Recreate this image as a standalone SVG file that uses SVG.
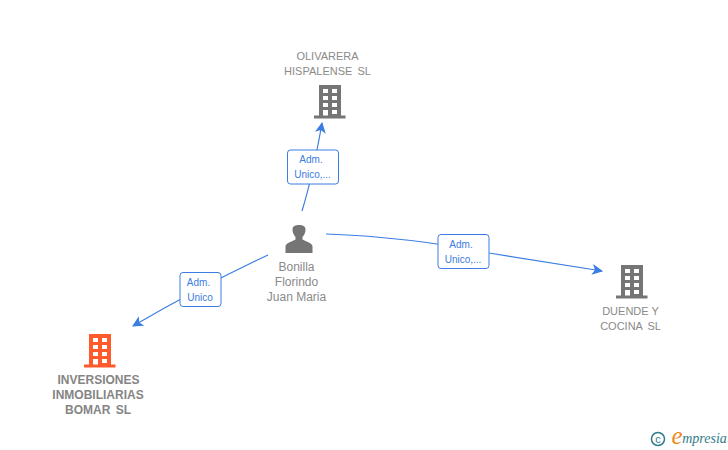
<svg xmlns="http://www.w3.org/2000/svg" width="728" height="450" viewBox="0 0 728 450">
<style>
text{font-family:"Liberation Sans",Arial,sans-serif;text-anchor:middle}
.n{font-size:11px;fill:#8a8a8a}
.w{word-spacing:2px}
.p{font-size:12px;fill:#8a8a8a}
.b{font-size:12px;fill:#858585;font-weight:bold;word-spacing:2px}
.l{font-size:10px;fill:#3b7de0}
.lb{fill:#fff;stroke:#3b7de0;stroke-width:1}
.c{fill:none;stroke:#3b7de0;stroke-width:1.2}
</style>
<defs>
<marker id="a" viewBox="0 0 10 10" refX="9" refY="5" markerWidth="11" markerHeight="11" markerUnits="userSpaceOnUse" orient="auto"><path d="M0 0L10 5L0 10L2.500 5Z" fill="#3b7de0"/></marker>
<path id="bld" fill-rule="evenodd" d="M-11-17H11V13.500H15.500V16.500H-16V13.500H-11ZM-7-13V-9H-2V-13ZM2-13V-9H7V-13ZM-7-6V-2H-2V-6ZM2-6V-2H7V-6ZM-7 1V5H-2V1ZM2 1V5H7V1ZM-7 8V13.500H-2V8ZM2 8V12H7V8Z"/>
</defs>
<g id="connectors">
<path class="c" marker-end="url(#a)" d="M302 211Q313 175 322 123"/>
<path class="c" marker-end="url(#a)" d="M326 234C380 236 430 241 489 253L602 271"/>
<path class="c" marker-end="url(#a)" d="M268 255Q200 287 133 326"/>
</g>
<g id="edge-label-1"><rect class="lb" x="287.500" y="150" width="51" height="34" rx="3"/><text class="l" x="311" y="163">Adm.</text><text class="l" x="312.500" y="178">Unico,...</text></g>
<g id="edge-label-2"><rect class="lb" x="438" y="234.500" width="51" height="34" rx="3"/><text class="l" x="461" y="248">Adm.</text><text class="l" x="463" y="263">Unico,...</text></g>
<g id="edge-label-3"><rect class="lb" x="180" y="272.500" width="41" height="34" rx="3"/><text class="l" x="198.500" y="286">Adm.</text><text class="l" x="200" y="301">Unico</text></g>
<g id="node-olivarera"><text class="n" x="327.500" y="60">OLIVARERA</text><text class="n w" x="327.500" y="75">HISPALENSE SL</text><use href="#bld" x="330" y="102" fill="#757575"/></g>
<g id="node-person"><path fill="#757575" d="M285.500 253V246.500C285.500 243 292 241.500 295.500 239.500V237C293.500 235 292.500 232 292.500 229.500C292.500 226 295.500 225 299 225C302.500 225 305.500 226 305.500 229.500C305.500 232 304.500 235 302.500 237V239.500C306 241.500 312.500 243 312.500 246.500V253Z"/><text class="p" x="296.500" y="271">Bonilla</text><text class="p" x="296.500" y="286">Florindo</text><text class="p" x="296.500" y="301">Juan Maria</text></g>
<g id="node-duende"><use href="#bld" x="632" y="282" fill="#757575"/><text class="n" x="630.500" y="315">DUENDE Y</text><text class="n w" x="630.500" y="330">COCINA SL</text></g>
<g id="node-inversiones"><use href="#bld" x="100" y="351" fill="#ff5a2c"/><text class="b" x="98.500" y="384">INVERSIONES</text><text class="b" x="98" y="399">INMOBILIARIAS</text><text class="b" x="98" y="414">BOMAR SL</text></g>
<g id="logo"><circle cx="658" cy="439" r="6.500" fill="none" stroke="#2f7a8c" stroke-width="1.500"/><text x="658" y="442.500" style="font-size:11px;fill:#2f7a8c">c</text><text x="677" y="444" style="font-size:25px;fill:#f08a1d;font-family:'Liberation Serif',serif;font-style:italic">e</text><text x="704.500" y="443" style="font-size:14px;fill:#2f7a8c;font-family:'Liberation Serif',serif;font-style:italic">mpresia</text></g>
</svg>
